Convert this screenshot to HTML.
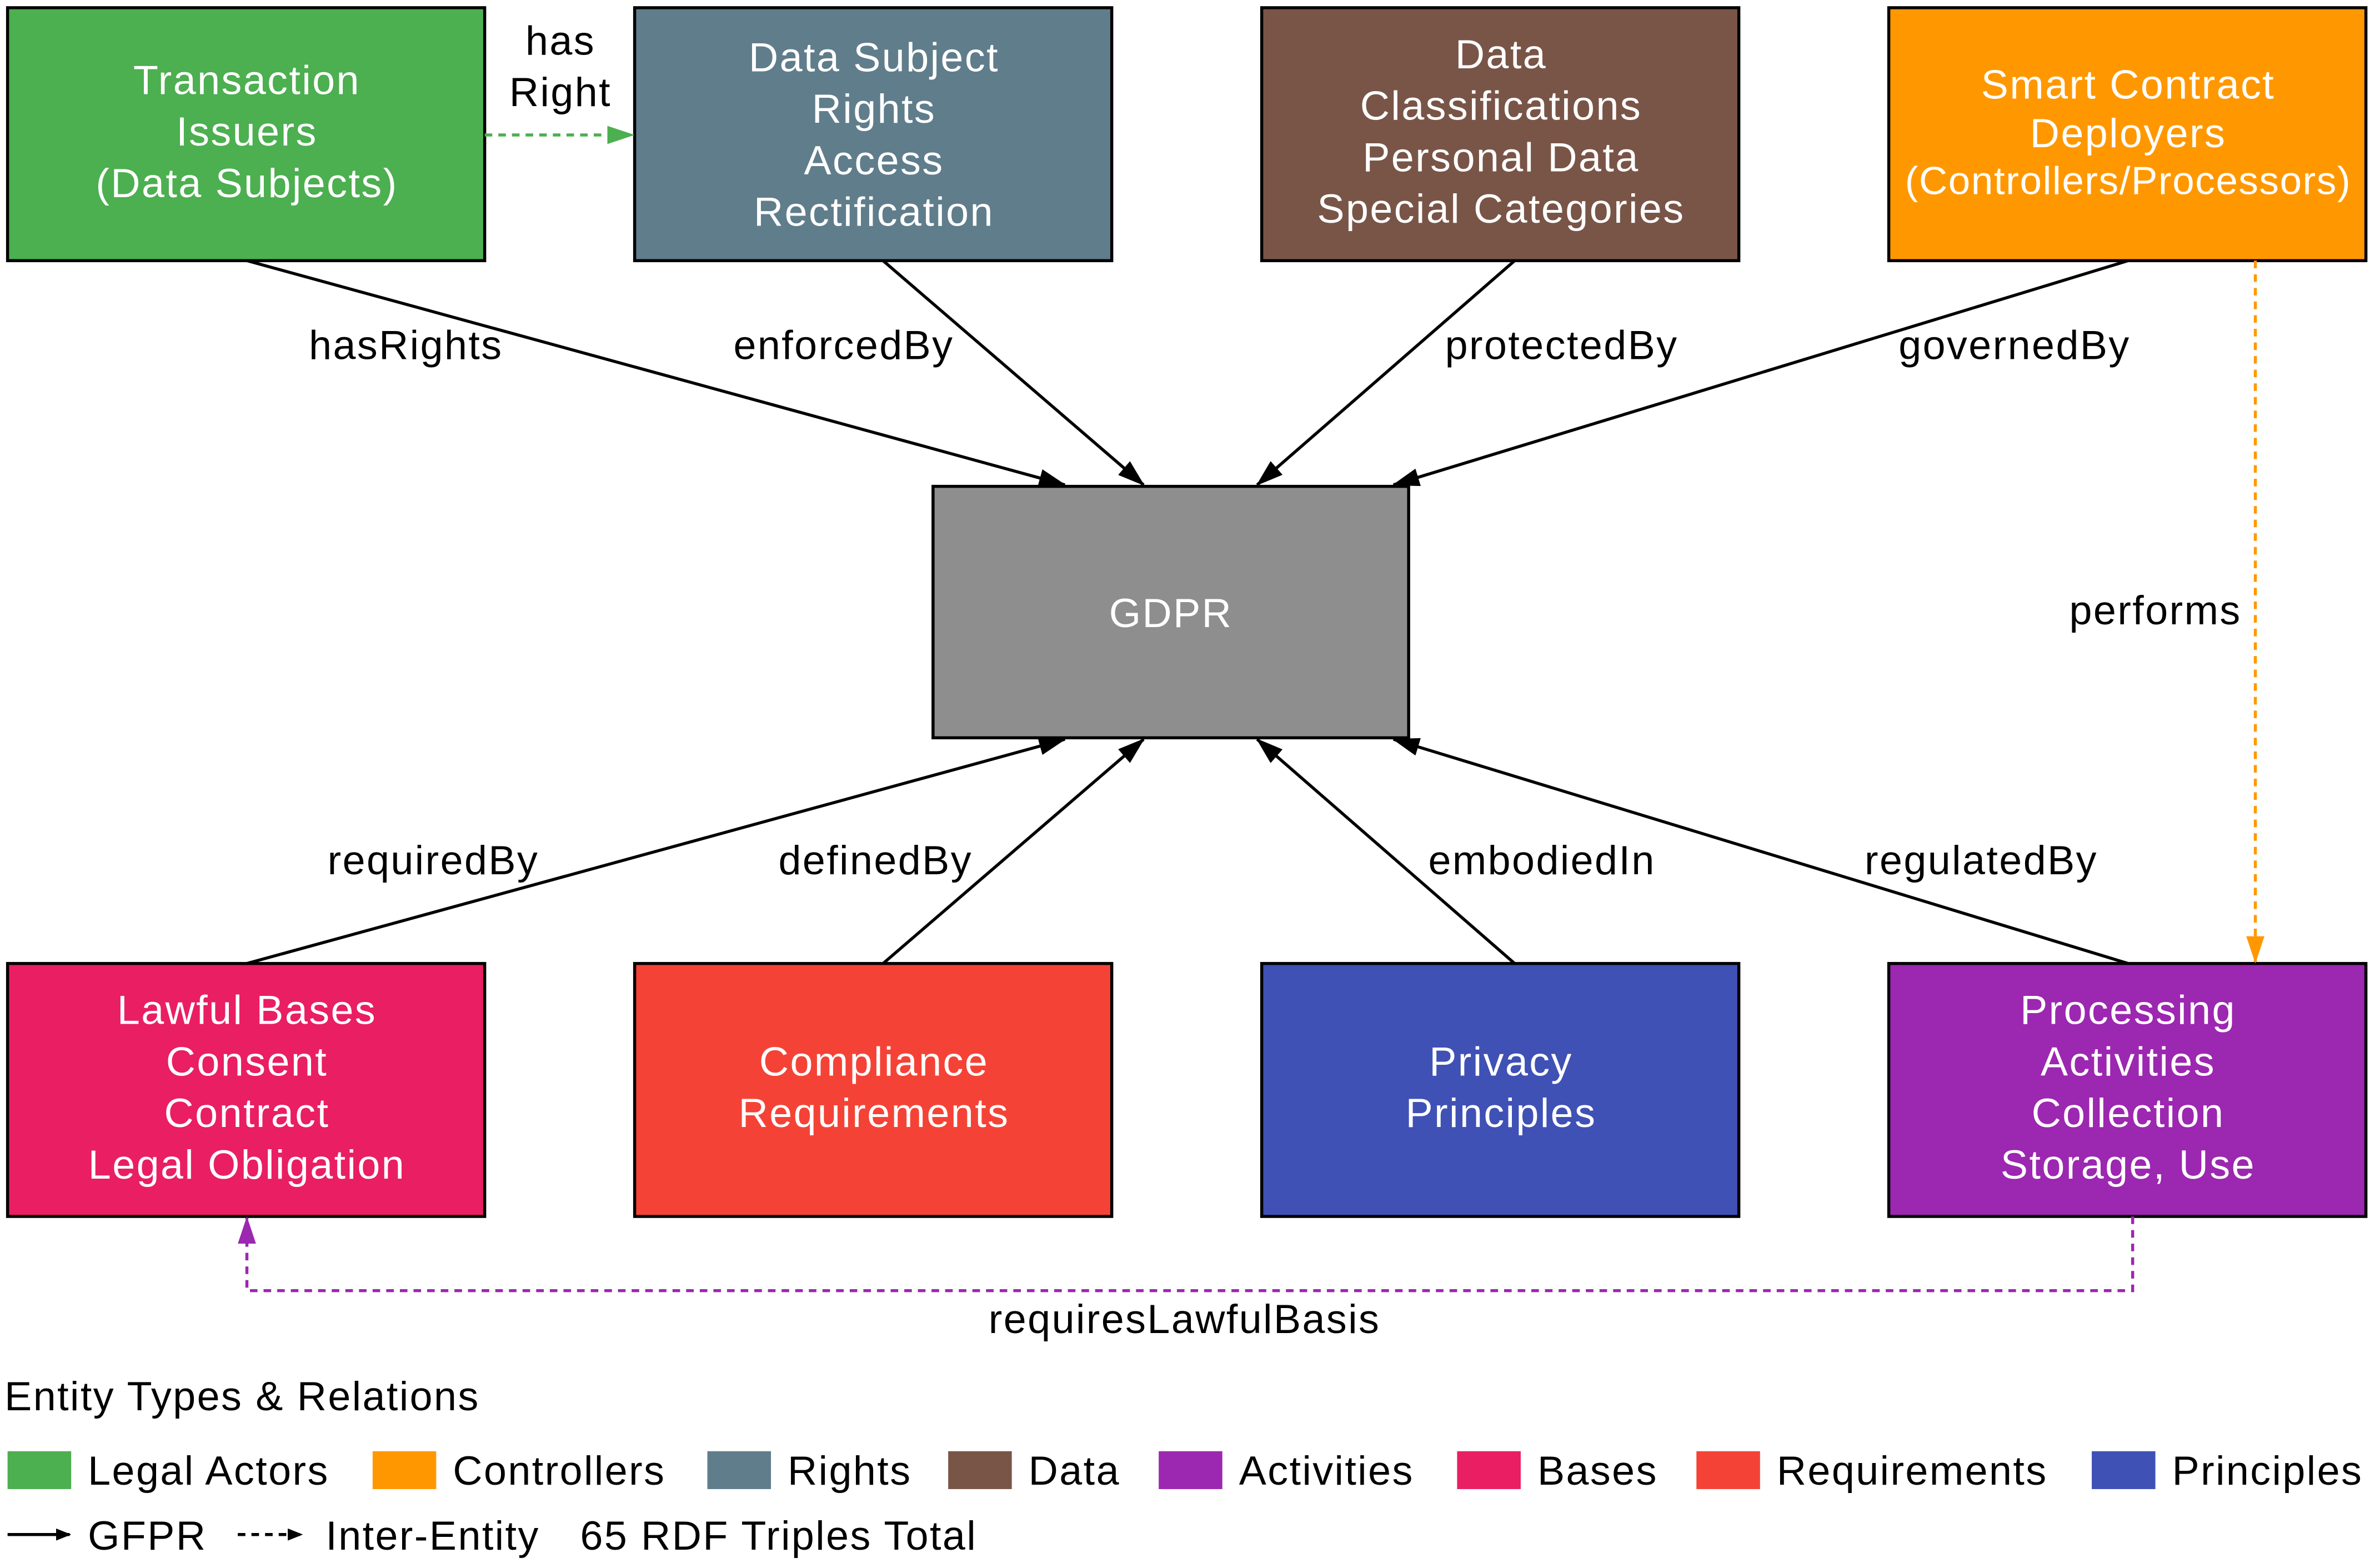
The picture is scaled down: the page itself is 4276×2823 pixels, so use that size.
<!DOCTYPE html>
<html><head><meta charset="utf-8"><style>
html,body{margin:0;padding:0;background:#fff;}
svg{display:block;}
text{font-family:"Liberation Sans",sans-serif;letter-spacing:0.9px;}
.w{fill:#fff;font-size:27px;text-anchor:middle;}
.b{fill:#000;font-size:27px;text-anchor:middle;}
.l{fill:#000;font-size:27px;}
</style></head><body>
<svg width="4276" height="2823" viewBox="0 0 1568 1035" xmlns="http://www.w3.org/2000/svg">
<defs>
<marker id="ak" markerWidth="10" markerHeight="8" refX="9" refY="4" orient="auto" markerUnits="userSpaceOnUse"><path d="M0,0 L10,4 L0,8 z" fill="#000"/></marker>
<marker id="ag" markerWidth="18" markerHeight="12" refX="17" refY="6" orient="auto" markerUnits="userSpaceOnUse"><path d="M0,0 L18,6 L0,12 z" fill="#4CAF50"/></marker>
<marker id="ao" markerWidth="18" markerHeight="12" refX="17" refY="6" orient="auto" markerUnits="userSpaceOnUse"><path d="M0,0 L18,6 L0,12 z" fill="#FF9800"/></marker>
<marker id="ap" markerWidth="18" markerHeight="12" refX="17" refY="6" orient="auto" markerUnits="userSpaceOnUse"><path d="M0,0 L18,6 L0,12 z" fill="#9C27B0"/></marker>
<marker id="ab" markerWidth="18" markerHeight="12" refX="17" refY="6" orient="auto" markerUnits="userSpaceOnUse"><path d="M0,0 L18,6 L0,12 z" fill="#000"/></marker>
</defs>
<g stroke="#000" stroke-width="2">
<rect x="5" y="5" width="315" height="167" fill="#4CAF50"/>
<rect x="419" y="5" width="315" height="167" fill="#607D8B"/>
<rect x="833" y="5" width="315" height="167" fill="#795548"/>
<rect x="1247" y="5" width="315" height="167" fill="#FF9800"/>
<rect x="616" y="321" width="314" height="166" fill="#8E8E8E"/>
<rect x="5" y="636" width="315" height="167" fill="#E91E63"/>
<rect x="419" y="636" width="315" height="167" fill="#F44336"/>
<rect x="833" y="636" width="315" height="167" fill="#3F51B5"/>
<rect x="1247" y="636" width="315" height="167" fill="#9C27B0"/>
</g>
<g stroke="#000" stroke-width="2" fill="none" marker-end="url(#ab)">
<line x1="163" y1="172" x2="703" y2="320"/>
<line x1="583" y1="172" x2="755" y2="320"/>
<line x1="1000" y1="172" x2="830" y2="320"/>
<line x1="1405" y1="172" x2="920" y2="320"/>
<line x1="163" y1="636" x2="703" y2="488"/>
<line x1="583" y1="636" x2="755" y2="488"/>
<line x1="1000" y1="636" x2="830" y2="488"/>
<line x1="1405" y1="636" x2="920" y2="488"/>
</g>
<line x1="320" y1="89" x2="418" y2="89" stroke="#4CAF50" stroke-width="2" stroke-dasharray="5,4" marker-end="url(#ag)"/>
<line x1="1489" y1="172" x2="1489" y2="635" stroke="#FF9800" stroke-width="2" stroke-dasharray="5,4" marker-end="url(#ao)"/>
<polyline points="1408,803 1408,852 163,852 163,804" fill="none" stroke="#9C27B0" stroke-width="2" stroke-dasharray="5,4" marker-end="url(#ap)"/>
<text class="w" x="163" y="62">Transaction</text>
<text class="w" x="163" y="96">Issuers</text>
<text class="w" x="163" y="130">(Data Subjects)</text>
<text class="w" x="577" y="47">Data Subject</text>
<text class="w" x="577" y="81">Rights</text>
<text class="w" x="577" y="115">Access</text>
<text class="w" x="577" y="149">Rectification</text>
<text class="w" x="991" y="45">Data</text>
<text class="w" x="991" y="79">Classifications</text>
<text class="w" x="991" y="113">Personal Data</text>
<text class="w" x="991" y="147">Special Categories</text>
<text class="w" x="1405" y="65">Smart Contract</text>
<text class="w" x="1405" y="97">Deployers</text>
<text class="w" x="1405" y="128" style="font-size:26px;letter-spacing:0.6px">(Controllers/Processors)</text>
<text class="w" x="773" y="414">GDPR</text>
<text class="w" x="163" y="676">Lawful Bases</text>
<text class="w" x="163" y="710">Consent</text>
<text class="w" x="163" y="744">Contract</text>
<text class="w" x="163" y="778">Legal Obligation</text>
<text class="w" x="577" y="710">Compliance</text>
<text class="w" x="577" y="744">Requirements</text>
<text class="w" x="991" y="710">Privacy</text>
<text class="w" x="991" y="744">Principles</text>
<text class="w" x="1405" y="676">Processing</text>
<text class="w" x="1405" y="710">Activities</text>
<text class="w" x="1405" y="744">Collection</text>
<text class="w" x="1405" y="778">Storage, Use</text>
<text class="b" x="370" y="36">has</text>
<text class="b" x="370" y="70">Right</text>
<text class="b" x="268" y="237">hasRights</text>
<text class="b" x="557" y="237">enforcedBy</text>
<text class="b" x="1031" y="237">protectedBy</text>
<text class="b" x="1330" y="237">governedBy</text>
<text class="b" x="1423" y="412">performs</text>
<text class="b" x="286" y="577">requiredBy</text>
<text class="b" x="578" y="577">definedBy</text>
<text class="b" x="1018" y="577">embodiedIn</text>
<text class="b" x="1308" y="577">regulatedBy</text>
<text class="b" x="782" y="880">requiresLawfulBasis</text>
<text class="l" x="3" y="931">Entity Types &amp; Relations</text>
<rect x="5" y="958" width="42" height="25" fill="#4CAF50"/><text class="l" x="58" y="980">Legal Actors</text>
<rect x="246" y="958" width="42" height="25" fill="#FF9800"/><text class="l" x="299" y="980">Controllers</text>
<rect x="467" y="958" width="42" height="25" fill="#607D8B"/><text class="l" x="520" y="980">Rights</text>
<rect x="626" y="958" width="42" height="25" fill="#795548"/><text class="l" x="679" y="980">Data</text>
<rect x="765" y="958" width="42" height="25" fill="#9C27B0"/><text class="l" x="818" y="980">Activities</text>
<rect x="962" y="958" width="42" height="25" fill="#E91E63"/><text class="l" x="1015" y="980">Bases</text>
<rect x="1120" y="958" width="42" height="25" fill="#F44336"/><text class="l" x="1173" y="980">Requirements</text>
<rect x="1381" y="958" width="42" height="25" fill="#3F51B5"/><text class="l" x="1434" y="980">Principles</text>
<line x1="5" y1="1013" x2="46" y2="1013" stroke="#000" stroke-width="2" marker-end="url(#ak)"/>
<text class="l" x="58" y="1023">GFPR</text>
<line x1="157" y1="1013" x2="199" y2="1013" stroke="#000" stroke-width="2" stroke-dasharray="5,4" marker-end="url(#ak)"/>
<text class="l" x="215" y="1023">Inter-Entity</text>
<text class="l" x="383" y="1023">65 RDF Triples Total</text>
</svg>
</body></html>
